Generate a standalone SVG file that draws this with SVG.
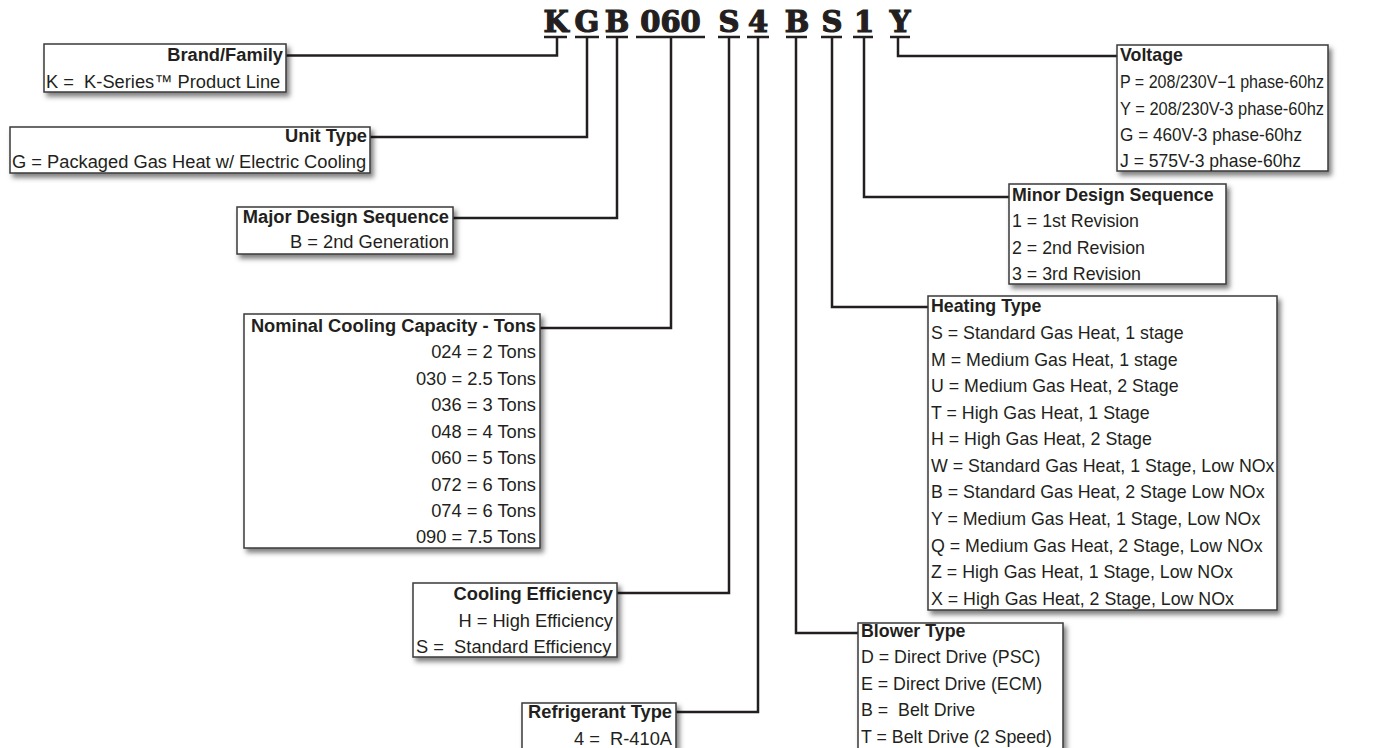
<svg xmlns="http://www.w3.org/2000/svg" width="1375" height="748" viewBox="0 0 1375 748">
<defs>
<filter id="sh" x="-10%" y="-10%" width="125%" height="140%">
<feDropShadow dx="3" dy="4" stdDeviation="2.5" flood-color="#000" flood-opacity="0.5"/>
</filter>
<style>
.box{fill:#fff;stroke:#3a3a3a;stroke-width:1.5;filter:url(#sh)}
.t{font-family:"Liberation Sans",Arial,sans-serif;font-size:18.3px;fill:#231f20;white-space:pre}
.rt .t{font-size:17.8px}
.b{font-weight:bold}
.r{text-anchor:end}
.code{font-family:"DejaVu Serif",serif;font-weight:bold;font-size:29px;fill:#231f20;stroke:#231f20;stroke-width:1.2;text-anchor:middle}
.ln{fill:none;stroke:#231f20;stroke-width:2.5}
</style>
</defs>
<rect width="1375" height="748" fill="#fff"/>
<g id="code">
<text class="code" x="556" y="32">K</text>
<text class="code" x="587" y="32">G</text>
<text class="code" x="617" y="32">B</text>
<text class="code" x="670.5" y="32">060</text>
<text class="code" x="729" y="32">S</text>
<text class="code" x="758" y="32">4</text>
<text class="code" x="797" y="32">B</text>
<text class="code" x="832" y="32">S</text>
<text class="code" x="864" y="32">1</text>
<text class="code" x="900" y="32">Y</text>
</g>
<g id="connectors" class="ln">
<path d="M544,37H567M575,37H599M606,37H628M636,37H705M718,37H740M747,37H769M786,37H807M821,37H842M853,37H873M890,37H910"/>
<path d="M557,37V55.5H286"/>
<path d="M587,37V137H370"/>
<path d="M617,37V218H453"/>
<path d="M671,37V328H540"/>
<path d="M729,37V593H617"/>
<path d="M758,37V712H676"/>
<path d="M796,37V633H858"/>
<path d="M832,37V307H928"/>
<path d="M864,37V197H1009"/>
<path d="M898,37V56H1117"/>
</g>
<g id="brand">
<rect class="box" x="44" y="44" width="242" height="48"/>
<text class="t b r" x="283" y="61">Brand/Family</text>
<text class="t" x="46" y="88">K =  K-Series™ Product Line</text>
</g>
<g id="unit">
<rect class="box" x="10" y="127" width="360" height="46"/>
<text class="t b r" x="367" y="142">Unit Type</text>
<text class="t" x="12" y="168">G = Packaged Gas Heat w/ Electric Cooling</text>
</g>
<g id="major">
<rect class="box" x="237" y="207" width="216" height="47"/>
<text class="t b r" x="449" y="223">Major Design Sequence</text>
<text class="t r" x="449" y="248">B = 2nd Generation</text>
</g>
<g id="nominal">
<rect class="box" x="244" y="314" width="296" height="234"/>
<text class="t b r" x="536" y="332">Nominal Cooling Capacity - Tons</text>
<text class="t r" x="536" y="358">024 = 2 Tons</text>
<text class="t r" x="536" y="384.5">030 = 2.5 Tons</text>
<text class="t r" x="536" y="411">036 = 3 Tons</text>
<text class="t r" x="536" y="437.5">048 = 4 Tons</text>
<text class="t r" x="536" y="464">060 = 5 Tons</text>
<text class="t r" x="536" y="490.5">072 = 6 Tons</text>
<text class="t r" x="536" y="517">074 = 6 Tons</text>
<text class="t r" x="536" y="543">090 = 7.5 Tons</text>
</g>
<g id="efficiency">
<rect class="box" x="413" y="583" width="204" height="74"/>
<text class="t b r" x="613" y="599.5">Cooling Efficiency</text>
<text class="t r" x="613" y="626.5">H = High Efficiency</text>
<text class="t" x="416" y="653">S =  Standard Efficiency</text>
</g>
<g id="refrigerant">
<rect class="box" x="522" y="703" width="154" height="60"/>
<text class="t b r" x="672" y="718">Refrigerant Type</text>
<text class="t r" x="672" y="745">4 =  R-410A</text>
</g>
<g id="voltage" class="rt">
<rect class="box" x="1117" y="45" width="211" height="126"/>
<text class="t b" x="1120" y="61">Voltage</text>
<text class="t" x="1120" y="88" textLength="204" lengthAdjust="spacingAndGlyphs">P = 208/230V−1 phase-60hz</text>
<text class="t" x="1120" y="114.5" textLength="204" lengthAdjust="spacingAndGlyphs">Y = 208/230V-3 phase-60hz</text>
<text class="t" x="1120" y="141" textLength="182" lengthAdjust="spacingAndGlyphs">G = 460V-3 phase-60hz</text>
<text class="t" x="1120" y="167" textLength="181" lengthAdjust="spacingAndGlyphs">J = 575V-3 phase-60hz</text>
</g>
<g id="minor" class="rt">
<rect class="box" x="1009" y="184" width="217" height="100"/>
<text class="t b" x="1012" y="201">Minor Design Sequence</text>
<text class="t" x="1012" y="227">1 = 1st Revision</text>
<text class="t" x="1012" y="253.5">2 = 2nd Revision</text>
<text class="t" x="1012" y="280">3 = 3rd Revision</text>
</g>
<g id="heating" class="rt">
<rect class="box" x="928" y="296" width="349" height="314"/>
<text class="t b" x="931" y="312">Heating Type</text>
<text class="t" x="931" y="339">S = Standard Gas Heat, 1 stage</text>
<text class="t" x="931" y="365.5">M = Medium Gas Heat, 1 stage</text>
<text class="t" x="931" y="392">U = Medium Gas Heat, 2 Stage</text>
<text class="t" x="931" y="418.5">T = High Gas Heat, 1 Stage</text>
<text class="t" x="931" y="445">H = High Gas Heat, 2 Stage</text>
<text class="t" x="931" y="471.5">W = Standard Gas Heat, 1 Stage, Low NOx</text>
<text class="t" x="931" y="498">B = Standard Gas Heat, 2 Stage Low NOx</text>
<text class="t" x="931" y="525">Y = Medium Gas Heat, 1 Stage, Low NOx</text>
<text class="t" x="931" y="551.5">Q = Medium Gas Heat, 2 Stage, Low NOx</text>
<text class="t" x="931" y="578">Z = High Gas Heat, 1 Stage, Low NOx</text>
<text class="t" x="931" y="605">X = High Gas Heat, 2 Stage, Low NOx</text>
</g>
<g id="blower" class="rt">
<rect class="box" x="858" y="623" width="205" height="140"/>
<text class="t b" x="861" y="637">Blower Type</text>
<text class="t" x="861" y="663">D = Direct Drive (PSC)</text>
<text class="t" x="861" y="690">E = Direct Drive (ECM)</text>
<text class="t" x="861" y="716">B =  Belt Drive</text>
<text class="t" x="861" y="743">T = Belt Drive (2 Speed)</text>
</g>
</svg>
